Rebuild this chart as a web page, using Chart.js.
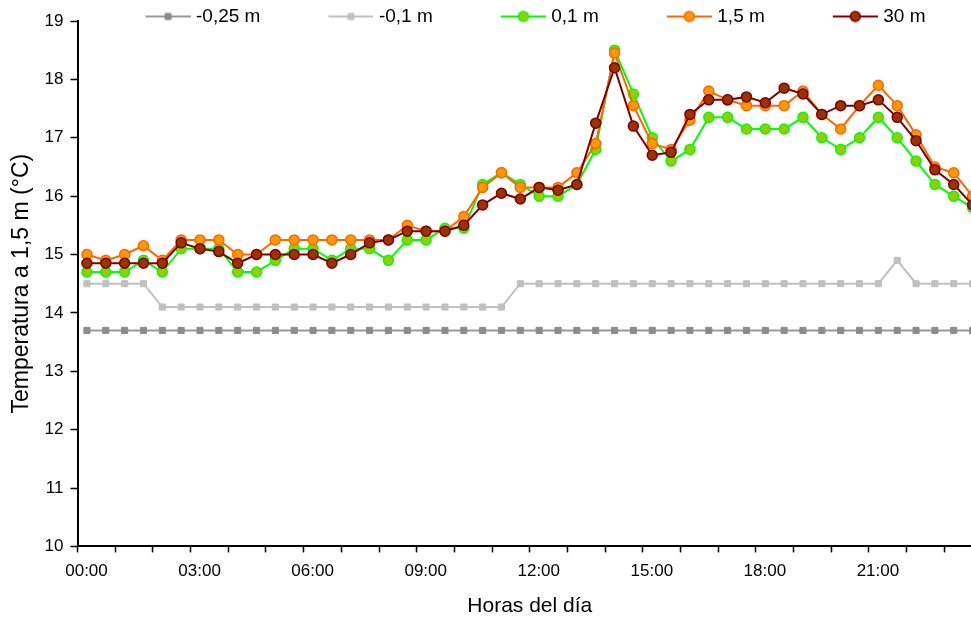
<!DOCTYPE html>
<html lang="es">
<head>
<meta charset="utf-8">
<title>Temperatura a 1,5 m</title>
<script src="https://cdn.jsdelivr.net/npm/chart.js@4.4.1/dist/chart.umd.min.js"></script>
<style>
    html, body { margin: 0; padding: 0; background: #fff; overflow: hidden; }
    #grafico { display: block; }
</style>
</head>
<body>
<canvas id="grafico" width="991" height="619"></canvas>
<script>
// Horas de medida (cada 30 min)
const horas = [
    '00:00', '00:30', '01:00', '01:30', '02:00', '02:30', '03:00', '03:30',
    '04:00', '04:30', '05:00', '05:30', '06:00', '06:30', '07:00', '07:30',
    '08:00', '08:30', '09:00', '09:30', '10:00', '10:30', '11:00', '11:30',
    '12:00', '12:30', '13:00', '13:30', '14:00', '14:30', '15:00', '15:30',
    '16:00', '16:30', '17:00', '17:30', '18:00', '18:30', '19:00', '19:30',
    '20:00', '20:30', '21:00', '21:30', '22:00', '22:30', '23:00', '23:30'
];

// Etiquetas del eje X
const etiquetasX = ['00:00', '03:00', '06:00', '09:00', '12:00', '15:00', '18:00', '21:00'];

// Temperaturas (°C)
const prof025 = [
    13.7, 13.7, 13.7, 13.7, 13.7, 13.7, 13.7, 13.7, 13.7, 13.7, 13.7, 13.7,
    13.7, 13.7, 13.7, 13.7, 13.7, 13.7, 13.7, 13.7, 13.7, 13.7, 13.7, 13.7,
    13.7, 13.7, 13.7, 13.7, 13.7, 13.7, 13.7, 13.7, 13.7, 13.7, 13.7, 13.7,
    13.7, 13.7, 13.7, 13.7, 13.7, 13.7, 13.7, 13.7, 13.7, 13.7, 13.7, 13.7
];
const prof01 = [
    14.5, 14.5, 14.5, 14.5, 14.1, 14.1, 14.1, 14.1, 14.1, 14.1, 14.1, 14.1,
    14.1, 14.1, 14.1, 14.1, 14.1, 14.1, 14.1, 14.1, 14.1, 14.1, 14.1, 14.5,
    14.5, 14.5, 14.5, 14.5, 14.5, 14.5, 14.5, 14.5, 14.5, 14.5, 14.5, 14.5,
    14.5, 14.5, 14.5, 14.5, 14.5, 14.5, 14.5, 14.9, 14.5, 14.5, 14.5, 14.5
];
const alt01 = [
    14.7, 14.7, 14.7, 14.9, 14.7, 15.1, 15.1, 15.1, 14.7, 14.7, 14.9, 15.1,
    15.1, 14.9, 15.1, 15.1, 14.9, 15.25, 15.25, 15.45, 15.45, 16.2, 16.4, 16.2,
    16.0, 16.0, 16.2, 16.8, 18.5, 17.75, 17.0, 16.6, 16.8, 17.35, 17.35, 17.15,
    17.15, 17.15, 17.35, 17.0, 16.8, 17.0, 17.35, 17.0, 16.6, 16.2, 16.0, 15.8
];
const alt15 = [
    15.0, 14.9, 15.0, 15.15, 14.9, 15.25, 15.25, 15.25, 15.0, 15.0, 15.25, 15.25,
    15.25, 15.25, 15.25, 15.25, 15.25, 15.5, 15.4, 15.4, 15.65, 16.15, 16.4, 16.15,
    16.15, 16.15, 16.4, 16.9, 18.45, 17.55, 16.9, 16.8, 17.3, 17.8, 17.65, 17.55,
    17.55, 17.55, 17.8, 17.4, 17.15, 17.55, 17.9, 17.55, 17.05, 16.5, 16.4, 16.0
];
const alt30 = [
    14.85, 14.85, 14.85, 14.85, 14.85, 15.2, 15.1, 15.05, 14.85, 15.0, 15.0, 15.0,
    15.0, 14.85, 15.0, 15.2, 15.25, 15.4, 15.4, 15.4, 15.5, 15.85, 16.05, 15.95,
    16.15, 16.1, 16.2, 17.25, 18.2, 17.2, 16.7, 16.75, 17.4, 17.65, 17.65, 17.7,
    17.6, 17.85, 17.75, 17.4, 17.55, 17.55, 17.65, 17.35, 16.95, 16.45, 16.2, 15.85
];

const FUENTE = "'Liberation Sans', Arial, sans-serif";
const ANCHO_CAJA = 102; // ancho reservado para el simbolo de la leyenda
const HUECO = 61;       // espacio libre a la izquierda del simbolo

function horaANum(t) {
    const p = t.split(':');
    return parseInt(p[0], 10) + parseInt(p[1], 10) / 60;
}

function puntos(serie) {
    return serie.map((v, i) => ({ x: horaANum(horas[i]), y: v }));
}

// Simbolo de leyenda estilo Excel: linea con marcador en medio
function iconoLeyenda(ds) {
    const ancho = ANCHO_CAJA + 8, alto = 16;
    const c = document.createElement('canvas');
    c.width = ancho;
    c.height = alto;
    const ctx = c.getContext('2d');
    const x0 = HUECO + 4, x1 = ancho, y = alto / 2;
    ctx.strokeStyle = ds.borderColor;
    ctx.lineWidth = ds.borderWidth;
    ctx.beginPath();
    ctx.moveTo(x0, y);
    ctx.lineTo(x1, y);
    ctx.stroke();
    const cx = (x0 + x1) / 2;
    ctx.fillStyle = ds.pointBackgroundColor;
    ctx.strokeStyle = ds.pointBorderColor;
    ctx.lineWidth = ds.pointBorderWidth;
    ctx.beginPath();
    if (ds.pointStyle === 'rect') {
        const s = ds.pointRadius * Math.SQRT1_2;
        ctx.rect(cx - s, y - s, 2 * s, 2 * s);
    } else {
        ctx.arc(cx, y, ds.pointRadius, 0, Math.PI * 2);
    }
    ctx.fill();
    if (ds.pointBorderWidth) ctx.stroke();
    return c;
}

const series = [
    { label: '-0,25 m', data: puntos(prof025), borderColor: '#999999', borderWidth: 2,
      pointStyle: 'rect', pointRadius: 4.3, pointBackgroundColor: '#8c8c8c', pointBorderColor: '#8c8c8c', pointBorderWidth: 1, order: 5 },
    { label: '-0,1 m', data: puntos(prof01), borderColor: '#c0c0c0', borderWidth: 2,
      pointStyle: 'rect', pointRadius: 4.3, pointBackgroundColor: '#c0c0c0', pointBorderColor: '#c0c0c0', pointBorderWidth: 1, order: 4 },
    { label: '0,1 m', data: puntos(alt01), borderColor: '#00ff00', borderWidth: 2,
      pointStyle: 'circle', pointRadius: 5, pointBackgroundColor: '#99cc00', pointBorderColor: '#00ff00', pointBorderWidth: 1.5, order: 3 },
    { label: '1,5 m', data: puntos(alt15), borderColor: '#ff6600', borderWidth: 2,
      pointStyle: 'circle', pointRadius: 5, pointBackgroundColor: '#ff9900', pointBorderColor: '#ff6600', pointBorderWidth: 1.5, order: 2 },
    { label: '30 m', data: puntos(alt30), borderColor: '#800000', borderWidth: 2,
      pointStyle: 'circle', pointRadius: 5, pointBackgroundColor: '#993300', pointBorderColor: '#800000', pointBorderWidth: 1.5, order: 1 }
];
series.forEach(ds => { ds.tension = 0; ds.fill = false; ds.icono = iconoLeyenda(ds); });

// La leyenda de Excel se monta sobre el borde superior del area: sin recorte
const leyendaSinRecorte = {
    id: 'leyendaSinRecorte',
    afterInit: function (chart) {
        chart.legend.draw = function () {
            if (this.options.display) this._draw();
        };
    }
};

const ctx = document.getElementById('grafico').getContext('2d');
const grafico = new Chart(ctx, {
    type: 'line',
    data: { datasets: series },
    plugins: [leyendaSinRecorte],
    options: {
        responsive: false,
        animation: false,
        layout: { padding: { left: 4, right: 0, top: 0, bottom: 0 } },
        plugins: {
            tooltip: { enabled: false },
            legend: {
                position: 'top',
                align: 'start',
                fullSize: false,
                maxHeight: 21,
                labels: {
                    usePointStyle: true,
                    pointStyleWidth: ANCHO_CAJA,
                    padding: 7,
                    color: '#000',
                    font: { family: FUENTE, size: 19 },
                    generateLabels: function (chart) {
                        return chart.data.datasets.map((ds, i) => ({
                            text: ds.label,
                            pointStyle: ds.icono,
                            fontColor: '#000',
                            lineWidth: 0,
                            hidden: false,
                            datasetIndex: i
                        }));
                    }
                }
            }
        },
        scales: {
            x: {
                type: 'linear',
                min: -0.25,
                max: 23.75,
                afterBuildTicks: function (scale) {
                    // marcas en el limite de cada hora
                    const marcas = [];
                    for (let h = 0; h <= 24; h++) marcas.push({ value: h - 0.25 });
                    scale.ticks = marcas;
                },
                grid: { drawOnChartArea: false, tickLength: 6, tickColor: '#000', tickWidth: 1.5 },
                border: { color: '#000', width: 2 },
                ticks: {
                    autoSkip: false,
                    maxRotation: 0,
                    padding: 9,
                    labelOffset: 9,
                    color: '#000',
                    font: { family: FUENTE, size: 17 },
                    callback: function (value) {
                        const h = Math.round(value + 0.25);
                        return (h % 3 === 0 && h < 24) ? etiquetasX[h / 3] : '';
                    }
                },
                title: {
                    display: true,
                    text: 'Horas del día',
                    color: '#000',
                    font: { family: FUENTE, size: 21 },
                    padding: { top: 3, bottom: 0 }
                }
            },
            y: {
                min: 10,
                max: 19,
                grid: { drawOnChartArea: false, tickLength: 7, tickColor: '#000', tickWidth: 1.5 },
                border: { color: '#000', width: 2 },
                ticks: {
                    stepSize: 1,
                    padding: 7,
                    color: '#000',
                    font: { family: FUENTE, size: 17 }
                },
                title: {
                    display: true,
                    text: 'Temperatura a 1,5 m (°C)',
                    color: '#000',
                    font: { family: FUENTE, size: 23 },
                    padding: { top: 4, bottom: 2 }
                }
            }
        }
    }
});
</script>
</body>
</html>
